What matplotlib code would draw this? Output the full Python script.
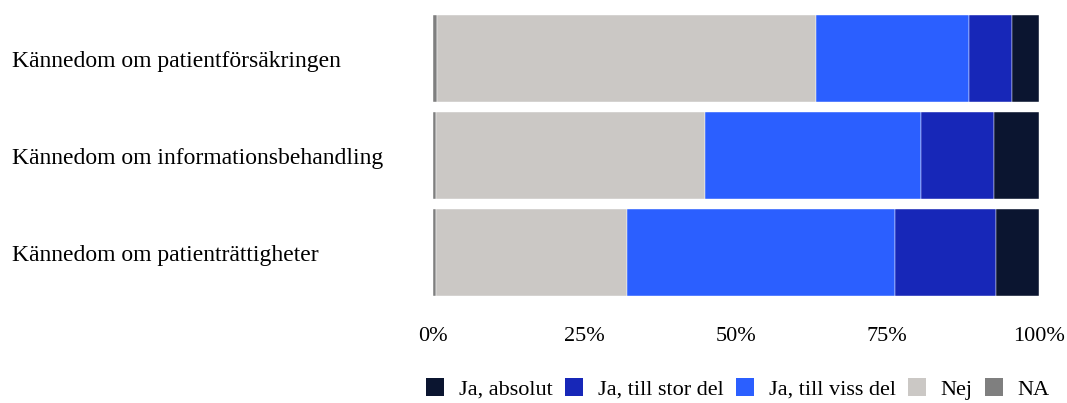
import matplotlib
matplotlib.use("Agg")
import matplotlib.pyplot as plt
import numpy as np
from matplotlib.patches import Patch

plt.rcParams['font.family'] = ['Liberation Serif', 'DejaVu Serif']

categories = ["Kännedom om patientförsäkringen",
              "Kännedom om informationsbehandling",
              "Kännedom om patienträttigheter"]
series_names = ["NA", "Nej", "Ja, till viss del", "Ja, till stor del", "Ja, absolut"]
na = [0.7, 0.5, 0.5]
nej = [62.5, 44.4, 31.5]
viss = [25.3, 35.6, 44.3]
stor = [7.1, 12.1, 16.7]
absolut = [4.4, 7.4, 7.0]
colors = {"NA": "#7F7F7F", "Nej": "#CBC8C5", "Ja, till viss del": "#2B5FFF",
          "Ja, till stor del": "#1727B8", "Ja, absolut": "#0B1530"}
xticks = [0, 25, 50, 75, 100]
xticklabels = ["0%", "25%", "50%", "75%", "100%"]

fig = plt.figure(figsize=(10.67, 4.03), dpi=100)
ax = fig.add_axes([0.4058, 0.253, 0.9735 - 0.4058, 0.975 - 0.253])

y = np.arange(len(categories))
left = np.zeros(len(categories))
for name, vals in zip(series_names, [na, nej, viss, stor, absolut]):
    vals = np.array(vals)
    ax.barh(y, vals, left=left, height=0.9, color=colors[name], edgecolor='white',
            linewidth=0.3, label=name)
    left += vals

ax.set_ylim(2.5, -0.5)
ax.set_xlim(0, 100)
ax.set_yticks(y)
ax.set_yticklabels(categories, ha='left', fontsize=17)
ax.tick_params(axis='y', length=0, pad=303)
ax.set_xticks(xticks)
ax.set_xticklabels(xticklabels, fontsize=16)
ax.tick_params(axis='x', length=0, pad=18.5)
for s in ax.spines.values():
    s.set_visible(False)

order = ["Ja, absolut", "Ja, till stor del", "Ja, till viss del", "Nej", "NA"]
handles = [Patch(facecolor=colors[n], edgecolor='none') for n in order]
fig.legend(handles, order, loc='lower left', bbox_to_anchor=(426 / 1067, 0.008), ncol=5,
           frameon=False, fontsize=16, handlelength=0.8, handleheight=0.85,
           columnspacing=0.55, handletextpad=0.68, borderpad=0.0, borderaxespad=0.0)

fig.savefig("out.png", dpi=100)
